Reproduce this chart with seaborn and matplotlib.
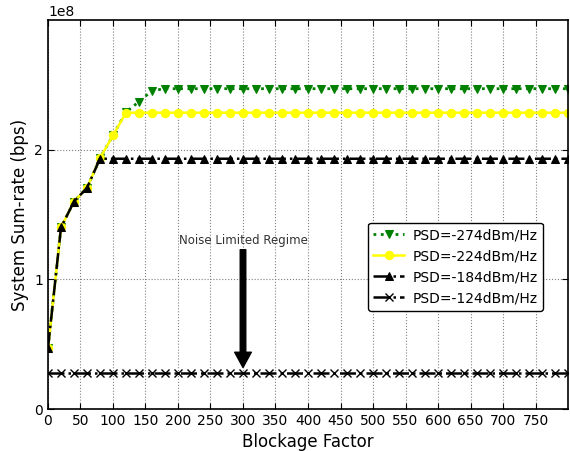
import matplotlib
matplotlib.use("Agg")
import matplotlib.pyplot as plt
import seaborn as sns

# ---------------------------------------------
# data
# ---------------------------------------------
blockage = [0, 20, 40, 60, 80, 100, 120, 140, 160, 180,
            200, 220, 240, 260, 280, 300, 320, 340, 360, 380,
            400, 420, 440, 460, 480, 500, 520, 540, 560, 580,
            600, 620, 640, 660, 680, 700, 720, 740, 760, 780, 800]

rate_274 = [0.47e8, 1.40e8, 1.60e8, 1.705e8, 1.935e8, 2.11e8, 2.29e8, 2.37e8, 2.455e8, 2.47e8,
            2.47e8, 2.47e8, 2.47e8, 2.47e8, 2.47e8, 2.47e8, 2.47e8, 2.47e8, 2.47e8, 2.47e8,
            2.47e8, 2.47e8, 2.47e8, 2.47e8, 2.47e8, 2.47e8, 2.47e8, 2.47e8, 2.47e8, 2.47e8,
            2.47e8, 2.47e8, 2.47e8, 2.47e8, 2.47e8, 2.47e8, 2.47e8, 2.47e8, 2.47e8, 2.47e8, 2.47e8]

rate_224 = [0.47e8, 1.40e8, 1.60e8, 1.705e8, 1.935e8, 2.11e8, 2.285e8, 2.285e8, 2.285e8, 2.285e8,
            2.285e8, 2.285e8, 2.285e8, 2.285e8, 2.285e8, 2.285e8, 2.285e8, 2.285e8, 2.285e8, 2.285e8,
            2.285e8, 2.285e8, 2.285e8, 2.285e8, 2.285e8, 2.285e8, 2.285e8, 2.285e8, 2.285e8, 2.285e8,
            2.285e8, 2.285e8, 2.285e8, 2.285e8, 2.285e8, 2.285e8, 2.285e8, 2.285e8, 2.285e8, 2.285e8, 2.285e8]

rate_184 = [0.47e8, 1.40e8, 1.60e8, 1.705e8, 1.93e8, 1.93e8, 1.93e8, 1.93e8, 1.93e8, 1.93e8,
            1.93e8, 1.93e8, 1.93e8, 1.93e8, 1.93e8, 1.93e8, 1.93e8, 1.93e8, 1.93e8, 1.93e8,
            1.93e8, 1.93e8, 1.93e8, 1.93e8, 1.93e8, 1.93e8, 1.93e8, 1.93e8, 1.93e8, 1.93e8,
            1.93e8, 1.93e8, 1.93e8, 1.93e8, 1.93e8, 1.93e8, 1.93e8, 1.93e8, 1.93e8, 1.93e8, 1.93e8]

rate_124 = [0.28e8, 0.28e8, 0.28e8, 0.28e8, 0.28e8, 0.28e8, 0.28e8, 0.28e8, 0.28e8, 0.28e8,
            0.28e8, 0.28e8, 0.28e8, 0.28e8, 0.28e8, 0.28e8, 0.28e8, 0.28e8, 0.28e8, 0.28e8,
            0.28e8, 0.28e8, 0.28e8, 0.28e8, 0.28e8, 0.28e8, 0.28e8, 0.28e8, 0.28e8, 0.28e8,
            0.28e8, 0.28e8, 0.28e8, 0.28e8, 0.28e8, 0.28e8, 0.28e8, 0.28e8, 0.28e8, 0.28e8, 0.28e8]

labels = ["PSD=-274dBm/Hz", "PSD=-224dBm/Hz", "PSD=-184dBm/Hz", "PSD=-124dBm/Hz"]
x_ticks = [0, 50, 100, 150, 200, 250, 300, 350, 400, 450, 500, 550, 600, 650, 700, 750]

# ---------------------------------------------
# figure
# ---------------------------------------------
fig = plt.figure(figsize=(5.7, 4.51), dpi=100)
ax = fig.add_axes([0.0842, 0.0931, 0.9123, 0.8626])

sns.lineplot(x=blockage, y=rate_274, ax=ax, color="green", linestyle=":",
             marker="v", markersize=6, markeredgecolor="green", linewidth=2,
             label=labels[0])
sns.lineplot(x=blockage, y=rate_224, ax=ax, color="yellow", linestyle="-",
             marker="o", markersize=6, markeredgecolor="yellow", linewidth=1.8,
             label=labels[1])
sns.lineplot(x=blockage, y=rate_184, ax=ax, color="black", linestyle="-.",
             marker="^", markersize=6, markeredgecolor="black", linewidth=1.8,
             label=labels[2])
sns.lineplot(x=blockage, y=rate_124, ax=ax, color="black", linestyle="-.",
             marker="x", markersize=6, markeredgecolor="black",
             markeredgewidth=1.0, linewidth=1.8, label=labels[3])

ax.set_xlim(0, 800)
ax.set_ylim(0, 3.0e8)
ax.set_xticks(x_ticks)
ax.set_yticks([0, 1e8, 2e8])
ax.tick_params(direction="in", top=True, right=True, labelsize=10, length=4)
ax.grid(True, color="gray", linestyle=":", linewidth=0.8)
for sp in ax.spines.values():
    sp.set_linewidth(1.2)

ax.set_xlabel("Blockage Factor", fontsize=12)
ax.set_ylabel("System Sum-rate (bps)", fontsize=12)

# annotation
ax.annotate("Noise Limited Regime", xy=(300, 0.32e8), xytext=(300, 1.25e8),
            ha="center", va="bottom", fontsize=8.5, color="#333333",
            arrowprops=dict(facecolor="black", edgecolor="black", width=4,
                            headwidth=12, headlength=11, shrink=0.0))

leg = ax.legend(loc="center right", bbox_to_anchor=(0.952, 0.366),
                borderaxespad=0, fontsize=10, fancybox=True, framealpha=1,
                edgecolor="black", handlelength=2.2, handletextpad=0.6)
leg.get_frame().set_linewidth(1.0)

fig.savefig("out.png", dpi=100)
